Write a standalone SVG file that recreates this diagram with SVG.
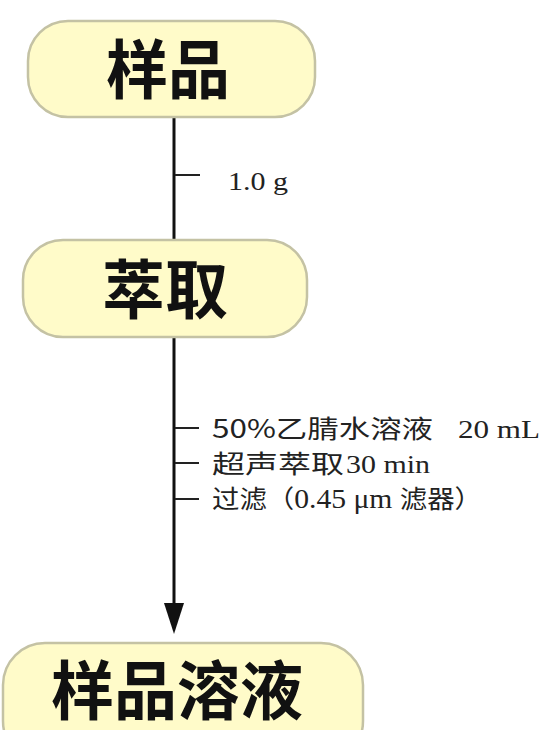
<svg xmlns="http://www.w3.org/2000/svg" width="545" height="730" viewBox="0 0 545 730">
<style>
.box{fill:#fffbc9;stroke:#c4c2a4;stroke-width:2.5}
.big{font-family:"Noto Sans CJK SC","Noto Sans",sans-serif;font-weight:bold;font-size:64px;fill:#111;text-anchor:middle}
.lbl{font-family:"Noto Sans CJK SC","Noto Sans",sans-serif;font-size:25px;fill:#222}
text.ser, tspan.ser{font-family:"Liberation Serif","Noto Sans CJK SC",serif}
.ln{stroke:#111;stroke-width:3;fill:none}
.tk{stroke:#222;stroke-width:2;fill:none}
</style>
<rect width="545" height="730" fill="#ffffff"/>
<g id="connectors">
<line class="ln" x1="174" y1="117" x2="174" y2="240"/>
<line class="tk" x1="175" y1="175" x2="200" y2="175"/>
<text class="lbl ser" x="228" y="190" font-size="23" textLength="60" lengthAdjust="spacingAndGlyphs">1.0 g</text>
<line class="ln" x1="174" y1="337" x2="174" y2="606"/>
<polygon points="164,603 184,603 174,634" fill="#111"/>
<line class="tk" x1="175" y1="428" x2="199" y2="428"/>
<line class="tk" x1="175" y1="463" x2="199" y2="463"/>
<line class="tk" x1="175" y1="499" x2="199" y2="499"/>
<text class="lbl" x="212" y="438" textLength="221" lengthAdjust="spacingAndGlyphs">50%乙腈水溶液</text>
<text class="lbl ser" x="458" y="438" font-size="27" textLength="82" lengthAdjust="spacingAndGlyphs">20 mL</text>
<text class="lbl" x="212" y="473" textLength="132" lengthAdjust="spacingAndGlyphs">超声萃取</text>
<text class="lbl ser" x="346" y="473" font-size="27" textLength="84" lengthAdjust="spacingAndGlyphs">30 min</text>
<text class="lbl" x="212" y="508" textLength="270" lengthAdjust="spacingAndGlyphs">过滤（<tspan class="ser" font-size="27">0.45 μm </tspan>滤器）</text>
</g>
<g id="node-sample">
<rect class="box" x="28" y="21" width="287" height="96" rx="40"/>
<text class="big" x="168" y="93" textLength="124" lengthAdjust="spacingAndGlyphs">样品</text>
</g>
<g id="node-extract">
<rect class="box" x="23" y="240" width="284" height="97" rx="40"/>
<text class="big" x="165" y="313" textLength="126" lengthAdjust="spacingAndGlyphs">萃取</text>
</g>
<g id="node-solution">
<rect class="box" x="3" y="643" width="360" height="120" rx="42"/>
<text class="big" x="177" y="714" textLength="252" lengthAdjust="spacingAndGlyphs">样品溶液</text>
</g>
</svg>
